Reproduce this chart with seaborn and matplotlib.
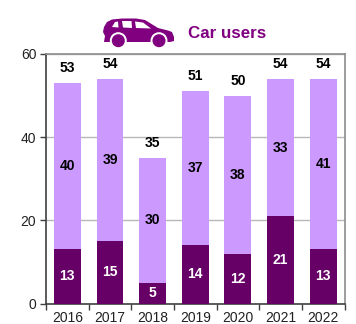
import matplotlib
matplotlib.use("Agg")
import matplotlib.pyplot as plt
import seaborn as sns
import numpy as np
from matplotlib.patches import Polygon, Ellipse

years = ["2016", "2017", "2018", "2019", "2020", "2021", "2022"]
regular = [13, 15, 5, 14, 12, 21, 13]
occasional = [40, 39, 30, 37, 38, 33, 41]
totals = [53, 54, 35, 51, 50, 54, 54]

DARK = "#660066"
LIGHT = "#CC99FF"
ACCENT = "#800080"
W, H = 356, 324

sns.set_theme(style="white")
plt.rcParams["font.family"] = ["Liberation Sans", "DejaVu Sans"]

fig = plt.figure(figsize=(W / 100, H / 100), dpi=100)
ax = fig.add_axes([46 / W, 1 - 303.5 / H, 298.5 / W, 249.5 / H])

sns.barplot(x=years, y=regular, color=DARK, width=0.63, saturation=1,
            linewidth=0, ax=ax, zorder=3)
sns.barplot(x=years, y=occasional, bottom=regular, color=LIGHT, width=0.63,
            saturation=1, linewidth=0, ax=ax, zorder=3)

ax.set_xlim(-0.5, 6.5)
ax.set_ylim(0, 60)
ax.set_yticks([0, 20, 40, 60])
ax.yaxis.grid(True, color="#B8B8B8", lw=1)
ax.set_axisbelow(True)

# Category ticks sit between the bars; labels stay centred under them
ax.set_xticks(np.arange(-0.5, 7, 1), minor=False)
ax.set_xticklabels([""] * 8)
ax.set_xticks(np.arange(7), minor=True)
ax.set_xticklabels(years, minor=True)
ax.tick_params(axis="x", which="major", length=4, width=1, color="#404040", bottom=True)
ax.tick_params(axis="x", which="minor", length=0, labelsize=10, labelcolor="#222222", pad=5.5)
ax.tick_params(axis="y", length=4, width=1, color="#404040", left=True,
               labelsize=10, labelcolor="#222222", pad=3)

ax.spines["left"].set_color("#404040")
ax.spines["bottom"].set_color("#404040")
ax.spines["top"].set_color("#8C8C8C")
ax.spines["right"].set_color("#8C8C8C")
for side in ax.spines.values():
    side.set_linewidth(1.2)

for i, (r, o, t) in enumerate(zip(regular, occasional, totals)):
    ax.text(i, r / 2, str(r), ha="center", va="center", color="white",
            fontsize=10, fontweight="bold", zorder=5)
    ax.text(i, r + o / 2, str(o), ha="center", va="center", color="black",
            fontsize=10, fontweight="bold", zorder=5)
    ax.text(i, r + o + 3.6, str(t), ha="center", va="center", color="black",
            fontsize=10, fontweight="bold", zorder=5, clip_on=False)

fig.text(188 / W, 1 - 34 / H, "Car users", color=ACCENT, fontsize=12.2,
         fontweight="bold", ha="left", va="center")


# Car pictogram, laid out in pixel units and mapped to figure coordinates
def px(points):
    return [(x / W, 1 - y / H) for x, y in points]


body = [(104, 27), (107, 22), (112, 19.5), (122, 18.5), (136, 18.5), (145, 20), (158, 28),
        (168, 30.5), (172, 32), (174, 37), (174, 41), (170, 42), (104, 42), (105, 36), (103, 32)]
fig.add_artist(Polygon(px(body), closed=True, fc=ACCENT, ec="none"))

windows = [[(112, 27), (115, 22), (118, 21.5), (118.5, 27.5)],
           [(122, 21), (131.5, 21), (132, 28), (123, 27.5)],
           [(135, 21.5), (143, 22.5), (151, 28.5), (136, 28)]]
for pane in windows:
    fig.add_artist(Polygon(px(pane), closed=True, fc="white", ec="none"))

for cx in (118.3, 159):
    cx_f, cy_f = cx / W, 1 - 40.7 / H
    for radius, shade in ((8.5, "white"), (6.5, ACCENT)):
        fig.add_artist(Ellipse((cx_f, cy_f), 2 * radius / W, 2 * radius / H,
                               fc=shade, ec="none"))

fig.savefig("out.png", dpi=100)
